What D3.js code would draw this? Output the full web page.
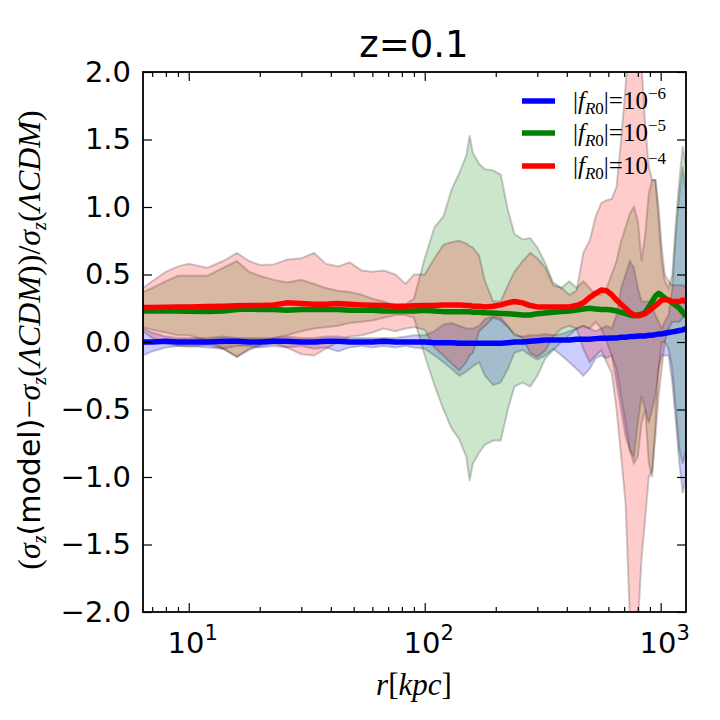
<!DOCTYPE html>
<html>
<head>
<meta charset="utf-8">
<title>z=0.1 velocity dispersion ratio</title>
<script src="https://cdnjs.cloudflare.com/ajax/libs/d3/7.8.5/d3.min.js"></script>
<style>
    body {
        margin: 0;
        background-color: white;
    }
    .tick line {
        stroke: black;
        stroke-width: 1.2px;
    }
</style>
</head>
<body>
<div id="chart"></div>
<script>
// radius grid in kpc
const radius = [6.4, 7, 8, 9, 10, 12, 14, 16, 18, 20, 23, 26, 30, 34, 38, 43, 48, 54, 60, 67,
    75, 83, 90, 100, 110, 120, 130, 140, 150, 155, 160, 170, 180, 195, 210, 225, 240, 260, 280, 300,
    325, 350, 380, 410, 440, 470, 500, 530, 560, 590, 620, 650, 680, 710, 740, 770, 800, 830, 860, 890,
    920, 950, 980, 1010, 1040, 1080, 1120, 1160, 1200, 1240, 1280];

// |fR0| = 1e-6
const blueLine = [0, 0, 0.005, 0, 0, 0, 0.005, 0.005, 0, 0, 0.005, 0.005, 0, 0, 0.005, 0.005, 0, 0, 0, 0.005,
    0, 0, 0, 0, -0.005, -0.005, -0.005, -0.01, -0.01, -0.01, -0.01, -0.01, -0.01, -0.01, -0.01, -0.005, 0, 0, 0.005, 0.01,
    0.015, 0.015, 0.015, 0.015, 0.02, 0.02, 0.02, 0.025, 0.027, 0.027, 0.03, 0.03, 0.035, 0.035, 0.04, 0.04, 0.044, 0.045, 0.045, 0.05,
    0.05, 0.055, 0.06, 0.06, 0.065, 0.07, 0.075, 0.08, 0.085, 0.09, 0.1];
const blueLo = [-0.1, -0.07, -0.04, -0.03, -0.03, -0.04, -0.05, -0.03, -0.03, -0.04, -0.03, -0.04, -0.03, -0.05, -0.04, -0.07, -0.04, -0.03, -0.04, -0.03,
    -0.04, -0.03, -0.04, -0.05, -0.1, -0.15, -0.2, -0.25, -0.22, -0.2, -0.18, -0.15, -0.25, -0.32, -0.3, -0.2, -0.08, -0.06, -0.1, -0.13,
    -0.1, -0.05, -0.1, -0.15, -0.2, -0.25, -0.2, -0.12, -0.1, -0.12, -0.1, -0.3, -0.5, -0.7, -0.8, -0.85, -0.6, -0.4, -0.5, -0.6,
    -0.5, -0.4, -0.2, -0.1, -0.1, -0.1, -0.3, -0.6, -0.9, -1.12, -1.0];
const blueHi = [0.1, 0.07, 0.04, 0.03, 0.03, 0.03, 0.04, 0.03, 0.03, 0.03, 0.03, 0.04, 0.03, 0.03, 0.04, 0.04, 0.03, 0.03, 0.03, 0.03,
    0.03, 0.04, 0.05, 0.05, 0.08, 0.13, 0.14, 0.12, 0.1, 0.1, 0.1, 0.12, 0.17, 0.19, 0.18, 0.12, 0.05, 0.04, 0.05, 0.05,
    0.06, 0.05, 0.06, 0.08, 0.1, 0.12, 0.1, 0.08, 0.1, 0.12, 0.1, 0.2, 0.4, 0.5, 0.6, 0.55, 0.4, 0.3, 0.3, 0.3,
    0.25, 0.2, 0.15, 0.1, 0.15, 0.2, 0.4, 0.8, 1.1, 1.3, 1.1];

// |fR0| = 1e-5
const greenLine = [0.23, 0.23, 0.23, 0.23, 0.228, 0.225, 0.23, 0.24, 0.245, 0.24, 0.24, 0.235, 0.24, 0.24, 0.24, 0.24, 0.235, 0.235, 0.235, 0.23,
    0.23, 0.23, 0.23, 0.235, 0.23, 0.225, 0.225, 0.225, 0.225, 0.225, 0.22, 0.22, 0.217, 0.215, 0.212, 0.21, 0.205, 0.2, 0.2, 0.21,
    0.215, 0.22, 0.225, 0.23, 0.237, 0.245, 0.25, 0.245, 0.24, 0.24, 0.237, 0.23, 0.22, 0.21, 0.2, 0.195, 0.2, 0.205, 0.22, 0.26,
    0.3, 0.34, 0.36, 0.345, 0.325, 0.31, 0.29, 0.27, 0.25, 0.22, 0.19];
const greenLo = [0.11, 0.09, 0.07, 0.05, 0.05, 0.01, -0.05, -0.11, -0.05, -0.02, 0.03, 0.05, 0.08, 0.1, 0.11, 0.12, 0.14, 0.15, 0.16, 0.18,
    0.2, 0.2, 0.18, -0.1, -0.32, -0.5, -0.64, -0.72, -0.85, -1.03, -0.9, -0.82, -0.76, -0.73, -0.73, -0.5, -0.33, -0.3, -0.33, -0.25,
    -0.12, -0.06, 0, 0.05, 0.1, 0.12, 0.1, 0.15, 0.1, 0, -0.1, -0.2, -0.4, -0.6, -0.8, -0.9, -0.85, -0.6, -0.5, -0.9,
    -1.0, -0.6, -0.2, 0, 0, -0.05, -0.2, -0.5, -0.8, -0.9, -0.8];
const greenHi = [0.37, 0.4, 0.45, 0.49, 0.49, 0.49, 0.55, 0.6, 0.52, 0.49, 0.46, 0.44, 0.46, 0.43, 0.4, 0.38, 0.37, 0.35, 0.32, 0.3,
    0.27, 0.28, 0.32, 0.62, 0.85, 0.93, 1.13, 1.25, 1.38, 1.53, 1.4, 1.32, 1.28, 1.27, 1.24, 0.98, 0.8, 0.76, 0.77, 0.7,
    0.58, 0.44, 0.4, 0.45, 0.4, 0.45, 0.4, 0.35, 0.35, 0.4, 0.5, 0.6, 0.75, 0.85, 0.95, 1.0, 0.9, 0.6, 0.8, 1.1,
    1.2, 1.2, 0.9, 0.6, 0.45, 0.4, 0.5, 0.9, 1.2, 1.45, 1.3];

// |fR0| = 1e-4
const redLine = [0.255, 0.255, 0.258, 0.26, 0.26, 0.263, 0.265, 0.268, 0.27, 0.27, 0.275, 0.29, 0.285, 0.28, 0.28, 0.285, 0.28, 0.275, 0.272, 0.27,
    0.265, 0.265, 0.268, 0.27, 0.27, 0.275, 0.275, 0.275, 0.27, 0.27, 0.265, 0.265, 0.26, 0.265, 0.275, 0.29, 0.3, 0.29, 0.27, 0.26,
    0.26, 0.26, 0.26, 0.26, 0.27, 0.29, 0.33, 0.36, 0.385, 0.38, 0.35, 0.31, 0.28, 0.25, 0.22, 0.2, 0.195, 0.2, 0.21, 0.23,
    0.25, 0.27, 0.29, 0.31, 0.315, 0.31, 0.3, 0.3, 0.3, 0.31, 0.3];
const redLo = [0.08, 0.03, -0.01, -0.03, -0.035, -0.02, -0.05, -0.11, -0.06, -0.03, -0.01, -0.04, -0.09, -0.1, -0.05, 0, 0.04, 0.05, 0.07, 0.1,
    0.08, 0.1, 0.11, 0.09, -0.04, -0.1, -0.16, -0.21, -0.15, -0.1, -0.08, 0.08, 0.12, 0.18, 0.16, 0.11, 0.06, 0.03, -0.08, -0.11,
    -0.06, 0.04, 0.1, 0.12, 0.1, -0.05, -0.15, -0.1, -0.06, -0.15, -0.23, -0.5, -0.85, -1.2, -2.05, -2.3, -2.1, -1.6, -1.3, -1.0,
    -0.95, -0.7, -0.4, -0.2, 0, 0.1, 0.15, 0.15, 0.15, 0.18, 0.2];
const redHi = [0.4, 0.45, 0.52, 0.56, 0.58, 0.55, 0.6, 0.66, 0.6, 0.57, 0.575, 0.61, 0.62, 0.66, 0.58, 0.56, 0.59, 0.53, 0.52, 0.53,
    0.5, 0.43, 0.5, 0.5, 0.62, 0.72, 0.74, 0.75, 0.73, 0.71, 0.7, 0.64, 0.45, 0.3, 0.3, 0.42, 0.52, 0.6, 0.66, 0.62,
    0.55, 0.42, 0.4, 0.35, 0.38, 0.66, 0.75, 0.93, 1.03, 1.05, 1.06, 1.15, 1.5, 1.9, 2.3, 2.4, 2.3, 2.05, 1.6, 1.3,
    1.2, 1.2, 1.0, 0.7, 0.5, 0.45, 0.42, 0.42, 0.42, 0.42, 0.4];

const seriesNames = ["-6", "-5", "-4"];
const seriesColors = ["#0000ff", "#008000", "#ff0000"];

const xMajor = [10, 100, 1000];
const xMinor = [7, 8, 9, 20, 30, 40, 50, 60, 70, 80, 90, 200, 300, 400, 500, 600, 700, 800, 900];
const yTicks = [-2, -1.5, -1, -0.5, 0, 0.5, 1, 1.5, 2];

const width = 720;
const height = 720;
const svg = d3.select("#chart").append("svg")
    .attr("width", width)
    .attr("height", height);

const x = d3.scaleLog().domain([6.4, 1280]).range([143, 686]);
const y = d3.scaleLinear().domain([-2, 2]).range([612, 72]);

svg.append("clipPath").attr("id", "plot-clip")
    .append("rect")
    .attr("x", 143).attr("y", 72)
    .attr("width", 543).attr("height", 540);

const plot = svg.append("g").attr("clip-path", "url(#plot-clip)");

// shaded scatter bands first, then the mean lines on top
const bands = [[blueLo, blueHi], [greenLo, greenHi], [redLo, redHi]];
const lines = [blueLine, greenLine, redLine];

const area = d3.area()
    .x((d, i) => x(radius[i]))
    .y0(d => y(d[0]))
    .y1(d => y(d[1]));

bands.forEach(function(b, k) {
    const pts = radius.map((r, i) => [b[0][i], b[1][i]]);
    plot.append("path")
        .datum(pts)
        .attr("d", area)
        .attr("fill", seriesColors[k])
        .attr("fill-opacity", 0.2)
        .attr("stroke", "#000")
        .attr("stroke-opacity", 0.2)
        .attr("stroke-width", 2);
});

const line = d3.line()
    .x((d, i) => x(radius[i]))
    .y(d => y(d));

lines.forEach(function(vals, k) {
    plot.append("path")
        .datum(vals)
        .attr("d", line)
        .attr("fill", "none")
        .attr("stroke", seriesColors[k])
        .attr("stroke-width", 5.5)
        .attr("stroke-linejoin", "round");
});

// ticks, pointing inward on all four sides
function noDomain(g) { g.select(".domain").remove(); }

svg.append("g").attr("transform", "translate(0,612)")
    .call(d3.axisBottom(x).tickValues(xMajor).tickSize(-9).tickFormat("")).call(noDomain);
svg.append("g").attr("transform", "translate(0,612)")
    .call(d3.axisBottom(x).tickValues(xMinor).tickSize(-5).tickFormat("")).call(noDomain);
svg.append("g").attr("transform", "translate(0,72)")
    .call(d3.axisTop(x).tickValues(xMajor).tickSize(-9).tickFormat("")).call(noDomain);
svg.append("g").attr("transform", "translate(0,72)")
    .call(d3.axisTop(x).tickValues(xMinor).tickSize(-5).tickFormat("")).call(noDomain);
svg.append("g").attr("transform", "translate(686,0)")
    .call(d3.axisRight(y).tickValues(yTicks).tickSize(-9).tickFormat("")).call(noDomain);

const yAxis = svg.append("g").attr("transform", "translate(143,0)")
    .call(d3.axisLeft(y).tickValues(yTicks).tickSize(-9).tickPadding(12).tickFormat(d3.format(".1f")))
    .call(noDomain);
yAxis.selectAll("text")
    .attr("font-family", "DejaVu Sans")
    .attr("font-size", 29)
    .attr("fill", "black");

// frame
svg.append("rect")
    .attr("x", 143).attr("y", 72)
    .attr("width", 543).attr("height", 540)
    .attr("fill", "none")
    .attr("stroke", "black")
    .attr("stroke-width", 1.8);

// x tick labels as 10^n
xMajor.forEach(function(v) {
    const t = svg.append("text")
        .attr("x", x(v) + 4)
        .attr("y", 653)
        .attr("text-anchor", "middle")
        .attr("font-family", "DejaVu Sans")
        .attr("font-size", 29);
    t.append("tspan").text("10");
    t.append("tspan").attr("dy", -13).attr("font-size", 21).text(String(Math.round(Math.log10(v))));
});

// title
svg.append("text")
    .attr("x", 414).attr("y", 57)
    .attr("text-anchor", "middle")
    .attr("font-family", "DejaVu Sans")
    .attr("font-size", 37)
    .text("z=0.1");

// x label
const xl = svg.append("text")
    .attr("x", 414).attr("y", 695)
    .attr("text-anchor", "middle")
    .attr("font-family", "Liberation Serif")
    .attr("font-size", 31);
xl.append("tspan").attr("font-style", "italic").text("r");
xl.append("tspan").text("[");
xl.append("tspan").attr("font-style", "italic").text("kpc");
xl.append("tspan").text("]");

// y label
const yl = svg.append("text")
    .attr("transform", "translate(40,340) rotate(-90)")
    .attr("text-anchor", "middle")
    .attr("font-family", "Liberation Serif")
    .attr("font-size", 32);
function sigma(el) {
    el.append("tspan").attr("font-style", "italic").text("σ");
    el.append("tspan").attr("font-style", "italic").attr("font-size", 20).attr("dy", 6).text("z");
}
yl.append("tspan").text("(");
sigma(yl);
yl.append("tspan").attr("dy", -6).attr("font-family", "DejaVu Sans").attr("font-size", 30).text("(model)");
yl.append("tspan").text("−");
sigma(yl);
yl.append("tspan").attr("dy", -6).text("(");
yl.append("tspan").attr("font-style", "italic").text("ΛCDM");
yl.append("tspan").text("))/");
sigma(yl);
yl.append("tspan").attr("dy", -6).text("(");
yl.append("tspan").attr("font-style", "italic").text("ΛCDM");
yl.append("tspan").text(")");

// legend, no frame
const legendY = [101, 133, 166];
seriesNames.forEach(function(name, k) {
    svg.append("line")
        .attr("x1", 522).attr("x2", 555)
        .attr("y1", legendY[k]).attr("y2", legendY[k])
        .attr("stroke", seriesColors[k])
        .attr("stroke-width", 5.5);
    const t = svg.append("text")
        .attr("x", 573).attr("y", legendY[k] + 8)
        .attr("font-family", "Liberation Serif")
        .attr("font-size", 25);
    t.append("tspan").text("|");
    t.append("tspan").attr("font-style", "italic").text("f");
    t.append("tspan").attr("font-style", "italic").attr("font-size", 17).attr("dy", 5).text("R");
    t.append("tspan").attr("font-size", 17).text("0");
    t.append("tspan").attr("dy", -5).text("|=10");
    t.append("tspan").attr("font-size", 17).attr("dy", -10).text(name.replace("-", "−"));
});
</script>
</body>
</html>
